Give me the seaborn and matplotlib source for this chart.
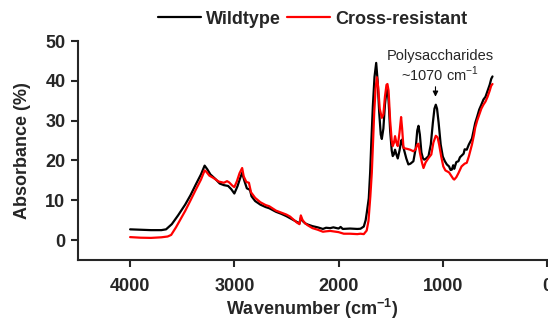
import pandas
import matplotlib
matplotlib.use("Agg")
import matplotlib.pyplot as plt
import seaborn as sns

# values
wt_wavenumber = [4000, 3900, 3800, 3700, 3655, 3600, 3540, 3472, 3420, 3369, 3320, 3285, 3260, 3230,
                 3180, 3140, 3100, 3060, 3030, 3000, 2970, 2945, 2925, 2905, 2880, 2850, 2835, 2800,
                 2750, 2700, 2665, 2600, 2550, 2500, 2465, 2400, 2375, 2362, 2345, 2320, 2295, 2250,
                 2200, 2150, 2120, 2080, 2050, 2000, 1980, 1960, 1890, 1820, 1790, 1758, 1740, 1729,
                 1710, 1697, 1685, 1671, 1655, 1639, 1625, 1610, 1595, 1585, 1570, 1555, 1540, 1531,
                 1520, 1505, 1490, 1480, 1470, 1458, 1445, 1432, 1415, 1400, 1394, 1380, 1368, 1350,
                 1330, 1310, 1282, 1260, 1245, 1233, 1220, 1205, 1190, 1178, 1160, 1137, 1115, 1095,
                 1080, 1067, 1055, 1040, 1020, 1000, 980, 961, 940, 925, 913, 900, 890, 870, 850, 835,
                 815, 800, 790, 770, 750, 720, 700, 689, 670, 650, 630, 610, 590, 570, 550, 535, 523]
wt_absorbance = [2.7, 2.6, 2.5, 2.5, 2.7, 4.0, 6.2, 8.9, 11.3, 14.0, 16.5, 18.7, 17.8, 16.5,
                 15.3, 14.2, 13.8, 13.6, 12.8, 11.7, 13.5, 15.5, 16.9, 15.0, 13.0, 12.6, 11.0, 9.8,
                 8.9, 8.3, 8.0, 7.1, 6.6, 6.0, 5.5, 4.6, 4.2, 5.6, 4.8, 4.2, 3.9, 3.5,
                 3.2, 2.8, 3.1, 3.0, 3.2, 2.9, 3.3, 2.8, 2.9, 2.8, 2.85, 3.4, 5.0, 6.9,
                 10.5, 16.9, 25.0, 33.6, 41.0, 44.5, 40.0, 32.0, 26.5, 25.4, 28.0, 34.0, 37.5, 38.2,
                 35.0, 27.5, 22.5, 21.1, 21.5, 22.7, 21.5, 20.5, 22.5, 24.8, 25.2, 23.5, 22.3, 20.5,
                 19.0, 19.2, 19.8, 23.0, 27.5, 28.7, 26.5, 22.0, 20.5, 20.2, 20.5, 21.1, 24.0, 29.5,
                 33.0, 34.0, 33.0, 29.5, 24.0, 21.0, 19.8, 19.0, 18.5, 17.6, 17.7, 18.8, 17.9, 19.6, 19.8, 20.8,
                 21.3, 21.7, 22.8, 22.7, 24.0, 25.5, 28.0, 29.4, 31.0, 32.8, 34.0, 35.3, 36.0, 37.5, 39.0, 40.5, 41.1]

cr_wavenumber = [4000, 3900, 3800, 3700, 3640, 3606, 3560, 3500, 3472, 3420, 3369, 3320, 3285, 3270,
                 3240, 3200, 3150, 3100, 3070, 3050, 3020, 3000, 2975, 2950, 2925, 2910, 2885, 2860,
                 2840, 2800, 2750, 2700, 2665, 2600, 2550, 2500, 2465, 2400, 2375, 2362, 2345, 2320,
                 2295, 2250, 2200, 2150, 2120, 2080, 2000, 1950, 1890, 1820, 1790, 1758, 1730, 1713,
                 1695, 1681, 1670, 1658, 1645, 1632, 1620, 1605, 1585, 1570, 1555, 1540, 1531, 1520,
                 1505, 1490, 1480, 1468, 1458, 1445, 1432, 1415, 1400, 1390, 1377, 1360, 1340, 1313,
                 1282, 1260, 1245, 1233, 1220, 1200, 1185, 1165, 1137, 1110, 1090, 1067, 1050, 1035,
                 1015, 995, 975, 961, 940, 920, 900, 890, 870, 850, 820, 790, 770, 750, 720, 700,
                 689, 670, 650, 630, 610, 590, 570, 550, 535, 523]
cr_absorbance = [0.75, 0.6, 0.55, 0.7, 0.9, 1.3, 3.2, 6.0, 7.3, 10.0, 12.7, 15.2, 17.5, 17.2,
                 16.2, 15.6, 14.7, 14.4, 14.8, 14.5, 13.7, 13.3, 14.8, 16.8, 18.1, 16.0, 14.6, 14.4,
                 12.0, 10.6, 9.5, 8.8, 8.5, 7.4, 6.9, 6.4, 5.9, 4.4, 4.0, 6.2, 5.0, 4.2,
                 3.7, 3.0, 2.6, 2.1, 2.2, 2.3, 2.0, 1.6, 1.6, 1.5, 1.6, 1.5, 2.4, 4.8,
                 11.0, 16.9, 24.0, 31.9, 38.0, 40.9, 38.5, 33.0, 30.7, 31.5, 36.0, 39.0, 39.2, 37.5,
                 30.0, 25.0, 23.6, 24.5, 26.1, 24.5, 23.6, 27.0, 30.9, 28.0, 23.2, 23.0, 22.9, 22.7,
                 22.3, 22.8, 24.0, 24.2, 22.0, 19.5, 18.1, 19.5, 20.6, 21.5, 24.5, 26.2, 25.8, 24.0,
                 21.0, 18.5, 17.5, 17.3, 17.0, 16.2, 15.4, 15.2, 15.8, 16.8, 18.5, 19.2, 19.4, 21.0, 24.0, 26.5,
                 28.2, 30.0, 31.5, 33.0, 34.0, 34.8, 36.0, 37.5, 38.8, 39.2]

df = pandas.concat([
    pandas.DataFrame({"Wavenumber": wt_wavenumber, "Absorbance": wt_absorbance, "Sample": "Wildtype"}),
    pandas.DataFrame({"Wavenumber": cr_wavenumber, "Absorbance": cr_absorbance, "Sample": "Cross-resistant"}),
])

sns.set_style("ticks")
plt.rcParams["font.family"] = ["Liberation Sans", "DejaVu Sans"]
plt.rcParams["mathtext.fontset"] = "custom"
plt.rcParams["mathtext.rm"] = "Liberation Sans"
plt.rcParams["mathtext.bf"] = "Liberation Sans:bold"

fig = plt.figure(figsize=(5.48, 3.24), dpi=100)
ax = fig.add_axes([78 / 548, 64 / 324, 469 / 548, 219 / 324])

sns.lineplot(data=df, x="Wavenumber", y="Absorbance", hue="Sample", estimator=None, sort=False,
             palette={"Wildtype": "black", "Cross-resistant": "#ff0000"}, linewidth=1.6, ax=ax)

ax.set_xlim(4500, 0)
ax.set_ylim(-5, 50)
ax.set_xticks([4000, 3000, 2000, 1000, 0])
ax.set_yticks([0, 10, 20, 30, 40, 50])
ax.tick_params(width=1.5, length=5, labelsize=13)
ax.tick_params(axis="x", pad=8)
ax.tick_params(axis="y", pad=4)
for lbl in ax.get_xticklabels() + ax.get_yticklabels():
    lbl.set_fontweight("bold")
for s in ["left", "bottom"]:
    ax.spines[s].set_linewidth(1.5)
sns.despine(ax=ax)
ax.set_xlabel(r"Wavenumber (cm$^{\mathbf{-1}}$)", fontsize=13, fontweight="bold", labelpad=1)
ax.set_ylabel("Absorbance (%)", fontsize=13, fontweight="bold", labelpad=10)

ax.annotate("", xy=(1070, 35.3), xytext=(1070, 39.2),
            arrowprops=dict(arrowstyle="-|>", color="black", lw=0.8, mutation_scale=8))
ax.text(1025, 39.3, "Polysaccharides\n~1070 cm$^{-1}$", ha="center", va="bottom",
        fontsize=10.5, linespacing=1.05)

leg = ax.legend(loc="center", bbox_to_anchor=(0.5, 1.10), ncol=2, frameon=False,
                handlelength=2.4, handletextpad=0.3, columnspacing=0.3,
                prop={"weight": "bold", "size": 13})
for line in leg.get_lines():
    line.set_linewidth(1.6)

fig.savefig("out.png", dpi=100)
